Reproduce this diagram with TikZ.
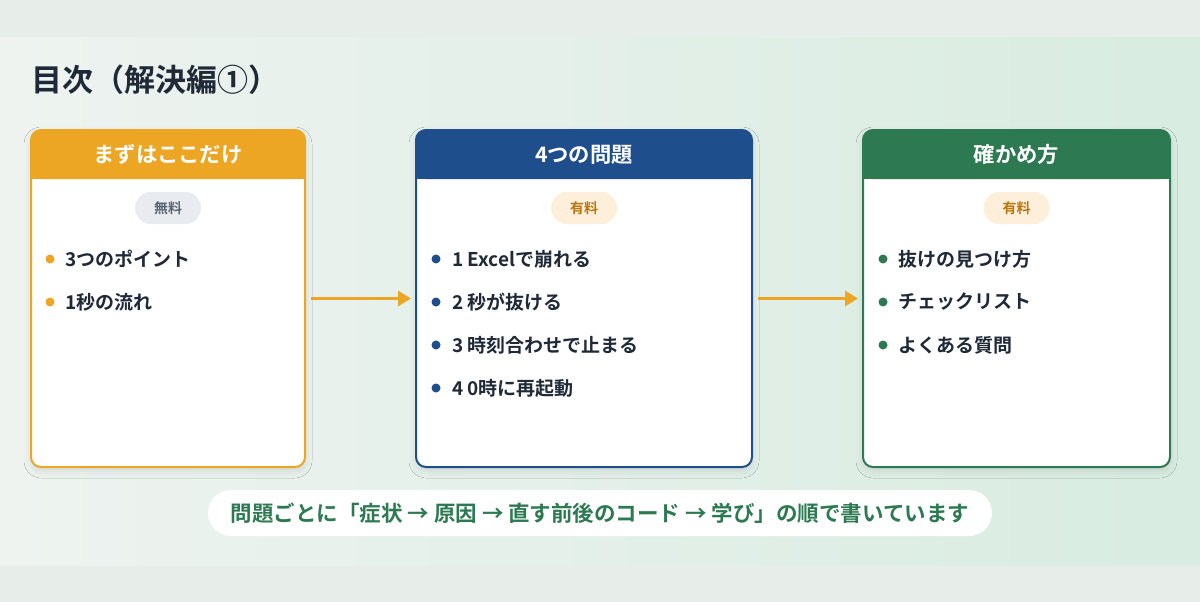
\documentclass[tikz,border=0pt]{standalone}
\usepackage{fontspec}
\setmainfont{Noto Sans CJK JP}[BoldFont={Noto Sans CJK JP Bold}]
\usetikzlibrary{arrows.meta, positioning, shadows.blur}
\usepackage{xcolor}

\definecolor{bgOuter}{HTML}{E7EDE9}
\definecolor{bgLeft}{HTML}{EEF3F0}
\definecolor{bgRight}{HTML}{D8ECE1}
\definecolor{ink}{HTML}{1F2937}
\definecolor{cOrange}{HTML}{EDA623}
\definecolor{cBlue}{HTML}{1F4E8C}
\definecolor{cGreen}{HTML}{2D7A52}
\definecolor{tagGray}{HTML}{E8EBEF}
\definecolor{tagGrayTxt}{HTML}{5B6472}
\definecolor{tagPaid}{HTML}{FDEFD9}
\definecolor{tagPaidTxt}{HTML}{B8770F}

\begin{document}
\begin{tikzpicture}[x=1pt, y=-1pt,
        card/.style={rectangle, rounded corners=10pt, fill=white, outer sep=0pt, minimum height=337pt,
            blur shadow={shadow xshift=0pt, shadow yshift=-4pt, shadow blur radius=7pt, shadow opacity=10}},
        headtxt/.style={text=white, font=\bfseries\fontsize{21.3}{25}\selectfont, inner sep=0pt},
        badge/.style={rectangle, rounded corners=16pt, minimum width=66pt, minimum height=32pt, inner sep=0pt, font=\bfseries\fontsize{14}{16}\selectfont},
        item/.style={anchor=west, inner sep=0pt, text=ink, font=\bfseries\fontsize{19}{22}\selectfont},
        flow/.style={-{Triangle[length=13pt, width=15pt]}, line width=3pt, cOrange, shorten <=6pt, shorten >=5pt},
        note/.style={rectangle, fill=white, rounded corners=23pt, minimum width=784pt, minimum height=46pt, text=cGreen, font=\bfseries\fontsize{21.5}{25}\selectfont}
    ]
        \useasboundingbox (0,0) rectangle (1200,602);

        % Background
        \fill[bgOuter] (0,0) rectangle (1200,602);
        \shade[left color=bgLeft, right color=bgRight] (0,38) rectangle (1200,565);

        % Title
        \node[anchor=west, inner sep=0pt, text=ink, font=\bfseries\fontsize{31}{36}\selectfont] (title) at (31,80) {目次（解決編①）};

        % Cards
        \node[card, minimum width=274pt] (free) at (168,298.5) {};
        \node[card, minimum width=336pt] (paid) at (584,298.5) {};
        \node[card, minimum width=307pt] (check) at (1016.5,298.5) {};

        % Headers and borders
        \foreach \n/\c in {free/cOrange, paid/cBlue, check/cGreen} {
            \fill[\c, rounded corners=10pt] (\n.north west) rectangle ([yshift=-49pt]\n.north east);
            \fill[\c] ([yshift=-20pt]\n.north west) rectangle ([yshift=-49pt]\n.north east);
            \draw[\c, line width=2pt, rounded corners=10pt] (\n.north west) rectangle (\n.south east);
        }
        \node[headtxt] (freeHead) at ([yshift=-24.5pt]free.north) {まずはここだけ};
        \node[headtxt] (paidHead) at ([yshift=-24.5pt]paid.north) {4つの問題};
        \node[headtxt] (checkHead) at ([yshift=-24.5pt]check.north) {確かめ方};

        % Badges
        \node[badge, fill=tagGray, text=tagGrayTxt] (freeTag) at ([yshift=-78pt]free.north) {無料};
        \node[badge, fill=tagPaid, text=tagPaidTxt] (paidTag) at ([yshift=-78pt]paid.north) {有料};
        \node[badge, fill=tagPaid, text=tagPaidTxt] (checkTag) at ([yshift=-78pt]check.north) {有料};

        % Items
        \foreach \t [count=\i] in {3つのポイント, 1秒の流れ} {
            \node[item] (free\i) at ([xshift=34pt, yshift={-86pt-43pt*\i}]free.north west) {\t};
            \fill[cOrange] ([xshift=-15pt]free\i.west) circle (4.5pt);
        }
        \foreach \t [count=\i] in {1 Excelで崩れる, 2 秒が抜ける, 3 時刻合わせで止まる, 4 0時に再起動} {
            \node[item] (paid\i) at ([xshift=36pt, yshift={-86pt-43pt*\i}]paid.north west) {\t};
            \fill[cBlue] ([xshift=-16pt]paid\i.west) circle (4.5pt);
        }
        \foreach \t [count=\i] in {抜けの見つけ方, チェックリスト, よくある質問} {
            \node[item] (check\i) at ([xshift=35pt, yshift={-86pt-43pt*\i}]check.north west) {\t};
            \fill[cGreen] ([xshift=-15pt]check\i.west) circle (4.5pt);
        }

        % Arrows
        \draw[flow] (free) -- (paid);
        \draw[flow] (paid) -- (check);

        % Note
        \node[note] (note) at (600,513) {問題ごとに「症状 → 原因 → 直す前後のコード → 学び」の順で書いています};

    \end{tikzpicture}
\end{document}
